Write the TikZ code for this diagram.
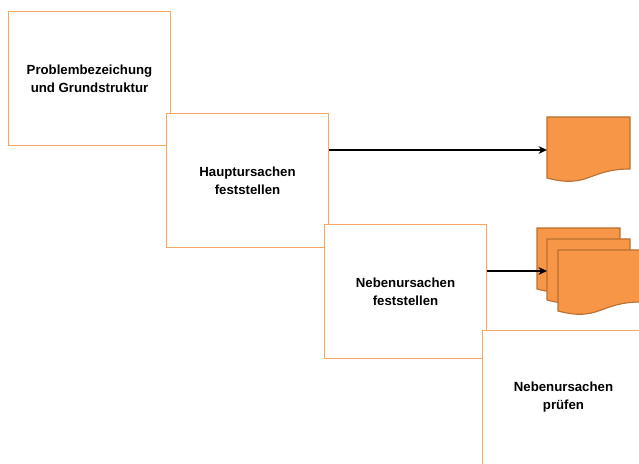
\documentclass[tikz,border=0pt]{standalone}
\usepackage{fontspec}
\setmainfont{Liberation Sans}
\usetikzlibrary{arrows.meta}

\definecolor{rahmen}{RGB}{249,166,96}
\definecolor{docfill}{RGB}{247,150,70}
\definecolor{docrand}{RGB}{185,112,50}

% Dokument-Symbol, linke obere Ecke bei (#1,#2)
\newcommand{\dokument}[2]{%
  \draw[docstil, shift={(#1,#2)}] (0,0) -- (83,0) -- (83,52)
    .. controls (41.5,52) and (41.5,72) .. (0,61) -- cycle;}

\begin{document}
\begin{tikzpicture}[x=0.025cm, y=-0.025cm,
    schritt/.style={draw=rahmen, line width=1.3pt, fill=white,
      minimum width=4.05cm, minimum height=3.35cm, inner sep=0pt,
      align=center, font=\fontsize{9.4}{12.8}\selectfont\bfseries},
    docstil/.style={draw=docrand, line width=0.8pt, fill=docfill},
    pfeil/.style={line width=1.1pt, -{Stealth[length=6pt,width=5.5pt]}}]
    \useasboundingbox (0,0) rectangle (639,464);

    % Schritte
    \node[schritt] (problem) at (89.5,78.5) {Problembezeichung\\und Grundstruktur};
    \node[schritt] (haupt) at (247.5,180.5) {Hauptursachen\\feststellen};
    \node[schritt] (neben) at (405.5,291.5) {Nebenursachen\\feststellen};
    \node[schritt] (pruefen) at (563.5,397.5) {Nebenursachen\\prüfen};

    % Dokumente
    \dokument{547}{117}
    \dokument{537}{228}
    \dokument{547}{239}
    \dokument{558}{250}
    \coordinate (doc1) at (547,150);
    \coordinate (doc2) at (547,271);

    % Pfeile
    \draw[pfeil] (haupt.east |- doc1) -- (doc1);
    \draw[pfeil] (neben.east |- doc2) -- (doc2);
\end{tikzpicture}
\end{document}
